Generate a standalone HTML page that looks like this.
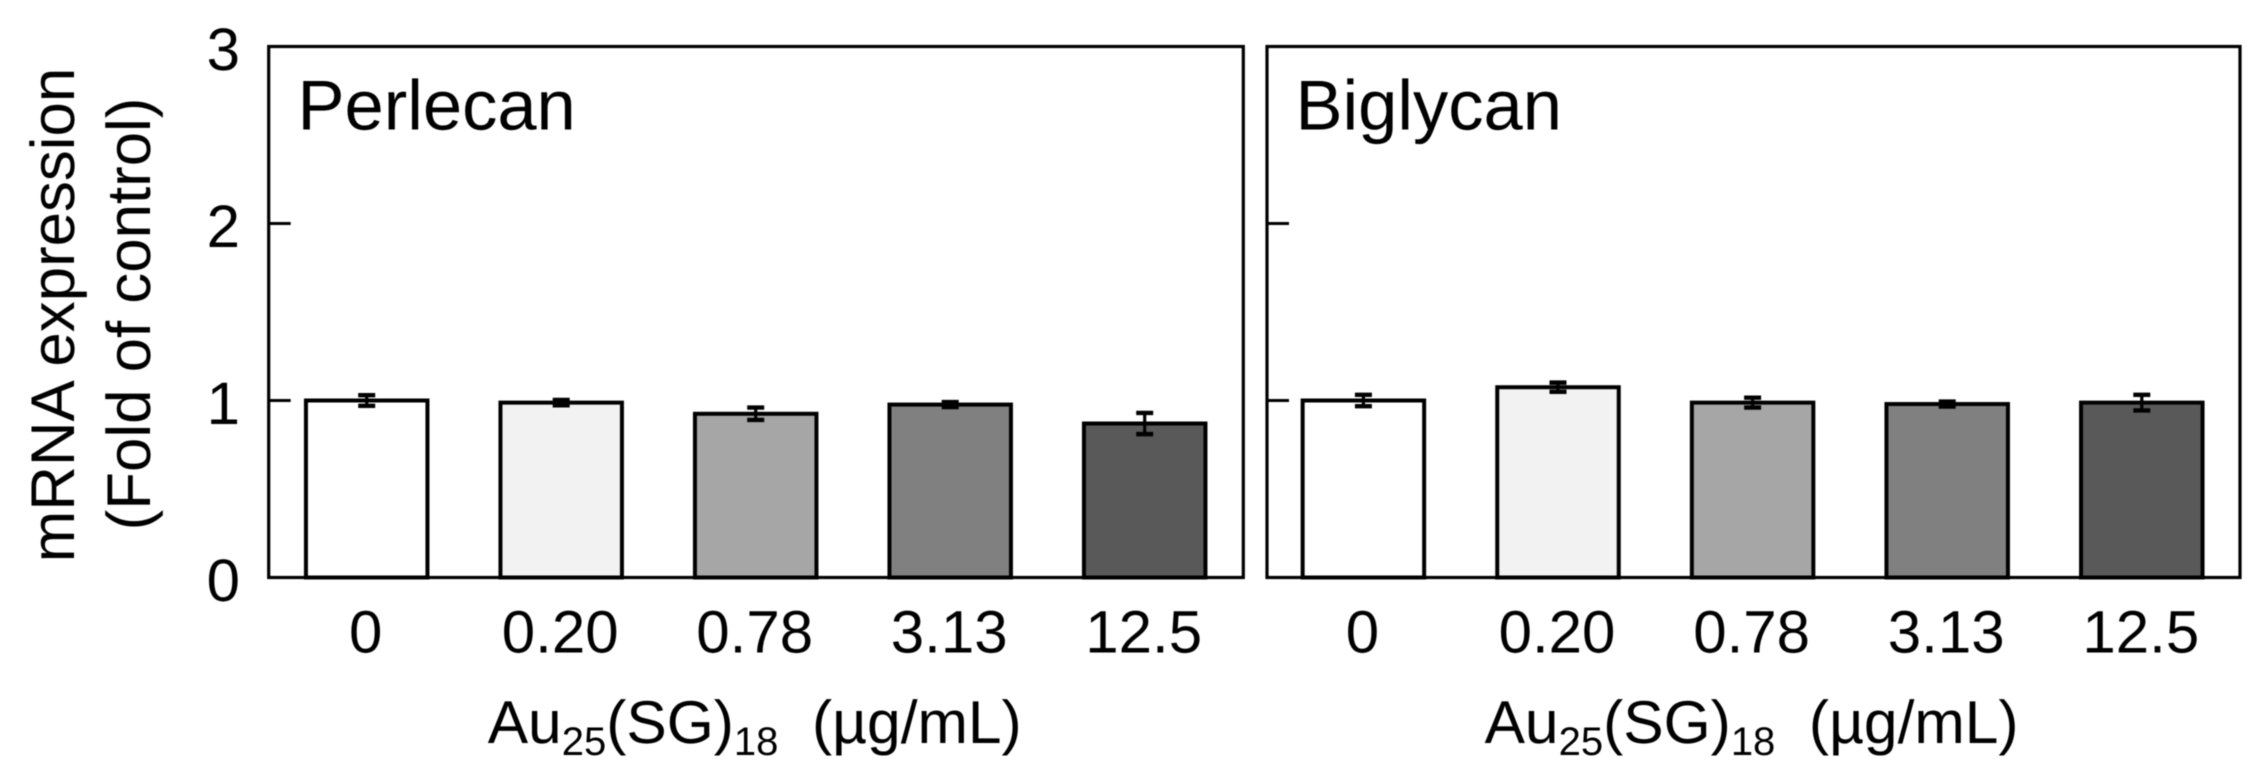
<!DOCTYPE html>
<html lang="en">
<head>
<meta charset="utf-8">
<title>mRNA expression of Perlecan and Biglycan</title>
<style>
html,body{margin:0;padding:0;background:#fff;width:2266px;height:774px;overflow:hidden}
svg{display:block;filter:blur(0.5px)}
text{font-family:"Liberation Sans",Arial,sans-serif;fill:#000;text-rendering:geometricPrecision}
</style>
</head>
<body>
<svg id="chart" xmlns="http://www.w3.org/2000/svg" width="2266" height="774" viewBox="0 0 2266 774">
  <rect x="0" y="0" width="2266" height="774" fill="#fff"/>
  <text transform="translate(74,315) rotate(-90)" text-anchor="middle" font-size="61.8">mRNA expression</text>
  <text transform="translate(150,314) rotate(-90)" text-anchor="middle" font-size="61.8">(Fold of control)</text>
  <g id="panels"></g>
</svg>
<script>
const categories = ["0", "0.20", "0.78", "3.13", "12.5"];
const yTickValues = [0, 1, 2, 3];
const barColors = ["#ffffff", "#f2f2f2", "#a6a6a6", "#808080", "#595959"];
const perlecanValues = [1.0, 0.988, 0.925, 0.977, 0.87];
const perlecanErrors = [0.03, 0.015, 0.035, 0.014, 0.06];
const biglycanValues = [1.0, 1.075, 0.988, 0.98, 0.988];
const biglycanErrors = [0.032, 0.026, 0.028, 0.014, 0.044];

const NS = "http://www.w3.org/2000/svg";
const panelsRoot = document.getElementById("panels");
const Y0 = 577.5, Y3 = 46.5;
const yScale = v => Y0 - (Y0 - Y3) * v / 3;

function mk(tag, parent, attrs, txt) {
  const el = document.createElementNS(NS, tag);
  for (const k in attrs) el.setAttribute(k, attrs[k]);
  if (txt !== undefined) el.textContent = txt;
  parent.appendChild(el);
  return el;
}

function drawPanel(key, title, values, errors, left, right, firstCenter, step, titleX, showYLabels) {
  const xScale = i => firstCenter + step * i;
  const barW = 121.5;
  const g = mk("g", panelsRoot, {});
  
  

  values.forEach((v, i) => {
    const bar = mk("rect", g, {
      x: xScale(i) - barW / 2, y: yScale(v), width: barW, height: Y0 - yScale(v),
      fill: barColors[i], stroke: "#000", "stroke-width": 4
    });
    
    
  });

  values.forEach((v, i) => {
    const e = errors[i], cx = xScale(i), hi = yScale(v + e), lo = yScale(v - e);
    const eg = mk("g", g, { stroke: "#000", "stroke-width": 4.4, fill: "none" });
    
    
    mk("line", eg, { x1: cx, x2: cx, y1: hi, y2: lo, "stroke-width": 3.2 });
    mk("line", eg, { x1: cx - 8.5, x2: cx + 8.5, y1: hi, y2: hi });
    mk("line", eg, { x1: cx - 8.5, x2: cx + 8.5, y1: lo, y2: lo });
  });

  const frame = mk("rect", g, {
    x: left, y: Y3, width: right - left, height: Y0 - Y3,
    fill: "none", stroke: "#000", "stroke-width": 3.2
  });
  
  

  yTickValues.forEach(t => {
    if (t === 1 || t === 2) {
      const tick = mk("line", g, {
        x1: left, x2: left + 22, y1: yScale(t), y2: yScale(t),
        stroke: "#000", "stroke-width": 3
      });
      
      
    }
    if (showYLabels) {
      const lab = mk("text", g, {
        x: 240, y: yScale(t) + 23.5, "text-anchor": "end", "font-size": 60
      }, String(t));
      
      
    }
  });

  categories.forEach((c, i) => {
    const lab = mk("text", g, {
      x: xScale(i) - 1, y: 652.5, "text-anchor": "middle", "font-size": 60
    }, c);
    
    
  });

  const ttl = mk("text", g, { x: titleX, y: 129.5, "font-size": 70.5 }, title);
  
  

  const xt = mk("text", g, {
    x: xScale(2) - 1, y: 743, "text-anchor": "middle", "font-size": 60.5
  });
  
  
  mk("tspan", xt, {}, "Au");
  mk("tspan", xt, { "font-size": 40, dy: 12 }, "25");
  mk("tspan", xt, { dy: -12 }, "(SG)");
  mk("tspan", xt, { "font-size": 40, dy: 12 }, "18");
  mk("tspan", xt, { dy: -12 }, "\u00a0\u00a0(\u00b5g/mL)");
}

drawPanel("perlecan", "Perlecan", perlecanValues, perlecanErrors, 268.7, 1243.3, 366.7, 194.5, 297.5, true);
drawPanel("biglycan", "Biglycan", biglycanValues, biglycanErrors, 1267, 2240, 1363.4, 194.6, 1295.5, false);
</script>
</body>
</html>
